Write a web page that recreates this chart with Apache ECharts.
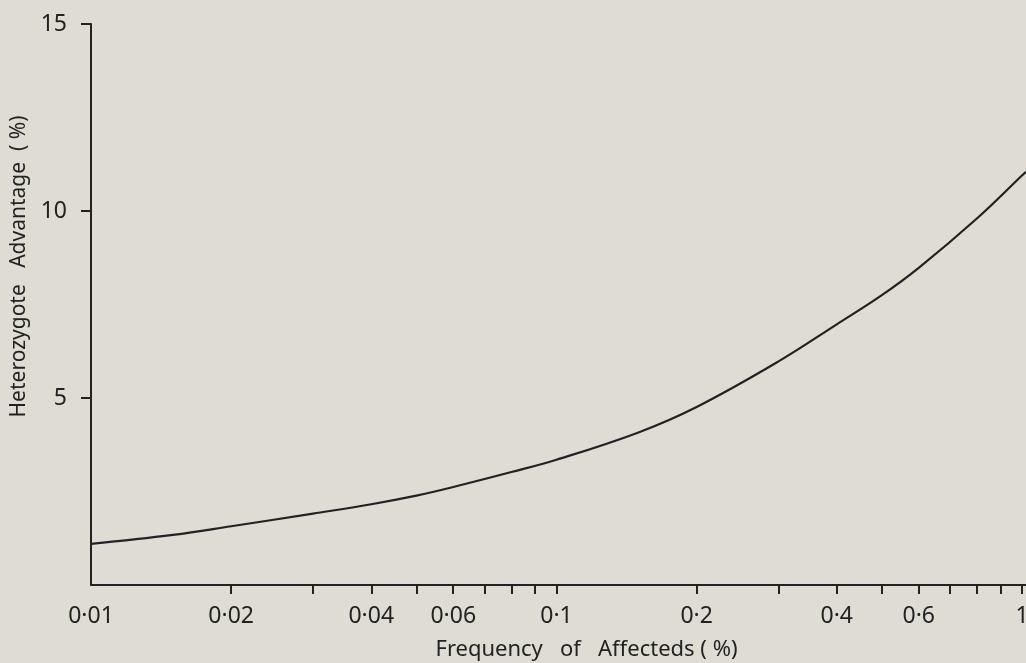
<!DOCTYPE html>
<html>
<head>
<meta charset="utf-8">
<script src="https://cdn.jsdelivr.net/npm/echarts@6/dist/echarts.min.js"></script>
<style>
html,body{margin:0;padding:0;background:#dedcd3;}
#chart{width:1026px;height:663px;}
</style>
</head>
<body>
<div id="chart"></div>
<script>
// Frequency of affecteds (%) and heterozygote advantage (%)
var frequency = [0.01, 0.015, 0.02, 0.03, 0.04, 0.05, 0.06, 0.08, 0.1, 0.15, 0.2, 0.3, 0.4, 0.5, 0.6, 0.8, 1.0, 1.02];
var advantage = [1.10, 1.34, 1.57, 1.91, 2.16, 2.39, 2.62, 3.02, 3.35, 4.08, 4.76, 5.98, 6.97, 7.75, 8.48, 9.80, 10.95, 11.05];
var xTickValues = [0.02, 0.03, 0.04, 0.05, 0.06, 0.07, 0.08, 0.09, 0.1, 0.2, 0.3, 0.4, 0.5, 0.6, 0.7, 0.8, 0.9, 1];
var xLabelValues = [0.01, 0.02, 0.04, 0.06, 0.1, 0.2, 0.4, 0.6, 1];
var yTickValues = [5, 10, 15];

var ink = '#222222';
var chart = echarts.init(document.getElementById('chart'), null, {renderer: 'canvas'});
var points = frequency.map(function (f, i) { return [f, advantage[i]]; });

chart.setOption({
  backgroundColor: '#dedcd3',
  animation: false,
  grid: {left: 91, right: 0, top: 24, bottom: 78, containLabel: false, outerBoundsMode: 'none'},
  xAxis: {
    type: 'log',
    logBase: 10,
    min: 0.01,
    max: 1.02,
    name: 'Frequency   of   Affecteds ( %)',
    nameLocation: 'middle',
    nameGap: 54,
    nameTextStyle: {fontFamily: 'Noto Sans', fontSize: 22, color: ink, padding: [0, 0, 0, 56]},
    axisLine: {show: true, lineStyle: {color: ink, width: 2}},
    axisTick: {show: true, inside: false, length: 9, lineStyle: {color: ink, width: 2}, customValues: xTickValues},
    axisLabel: {
      show: true, margin: 20, color: ink, fontFamily: 'Noto Sans', fontSize: 23,
      customValues: xLabelValues,
      formatter: function (v) { return String(+Number(v).toPrecision(3)).replace('.', '\u00b7'); }
    },
    splitLine: {show: false},
    minorTick: {show: false}
  },
  yAxis: {
    type: 'value',
    min: 0,
    max: 15,
    name: 'Heterozygote   Advantage  ( %)',
    nameLocation: 'middle',
    nameGap: 57,
    nameRotate: 90,
    nameTextStyle: {fontFamily: 'Noto Sans', fontSize: 21, color: ink, padding: [0, 0, 0, 76]},
    axisLine: {show: true, lineStyle: {color: ink, width: 2}},
    axisTick: {show: true, inside: false, length: 10, lineStyle: {color: ink, width: 2}, customValues: yTickValues},
    axisLabel: {show: true, margin: 24, color: ink, fontFamily: 'Noto Sans', fontSize: 23, customValues: yTickValues},
    splitLine: {show: false}
  },
  series: [{
    type: 'line',
    data: points,
    smooth: 0.4,
    showSymbol: false,
    lineStyle: {color: ink, width: 2.2}
  }]
});
</script>
</body>
</html>
